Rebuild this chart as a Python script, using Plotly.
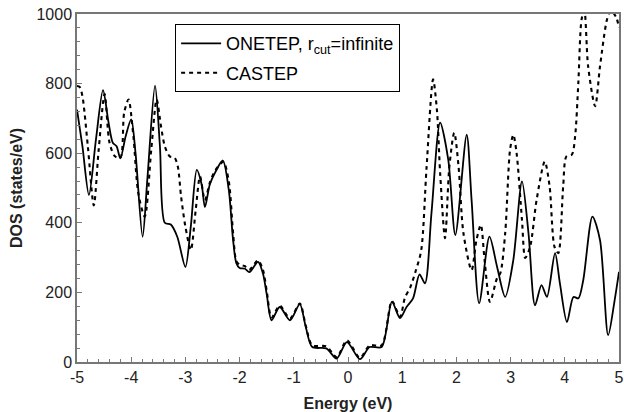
import plotly.graph_objects as go

onetep_x = [-5.00, -4.90, -4.78, -4.65, -4.52, -4.42, -4.34, -4.27, -4.20, -4.10, -4.00, -3.92, -3.79, -3.70,
            -3.56, -3.47, -3.38, -3.27, -3.15, -3.00, -2.90, -2.79, -2.70, -2.64, -2.55, -2.45, -2.31, -2.20,
            -2.12, -2.06, -2.00, -1.90, -1.82, -1.66, -1.57, -1.50, -1.41, -1.26, -1.07, -0.89, -0.78, -0.66,
            -0.40, -0.21, -0.02, 0.22, 0.40, 0.62, 0.81, 0.96, 1.08, 1.20, 1.32, 1.42, 1.54, 1.70, 1.85, 1.98,
            2.19, 2.28, 2.42, 2.61, 2.75, 2.90, 3.05, 3.21, 3.33, 3.45, 3.57, 3.67, 3.82, 3.91, 4.04, 4.16,
            4.25, 4.34, 4.51, 4.65, 4.80, 4.92, 5.00]
onetep_y = [725, 620, 480, 640, 781, 690, 630, 620, 585, 650, 697, 600, 360, 530,
            794, 620, 400, 395, 360, 273, 390, 552, 510, 445, 510, 545, 579, 495,
            350, 284, 270, 268, 258, 288, 255, 195, 120, 158, 120, 166, 101, 43,
            39, 10, 57, 8, 43, 43, 173, 126, 158, 183, 252, 226, 428, 688, 581, 365,
            653, 466, 169, 360, 274, 187, 293, 519, 370, 163, 221, 187, 313, 226, 115, 187,
            183, 235, 418, 350, 77, 178, 259]

castep_x = [-5.00, -4.95, -4.90, -4.80, -4.69, -4.60, -4.49, -4.40, -4.30, -4.20, -4.13, -4.05, -3.96, -3.87,
            -3.75, -3.63, -3.53, -3.45, -3.38, -3.29, -3.20, -3.14, -3.08, -3.00, -2.90, -2.81, -2.73, -2.64,
            -2.55, -2.45, -2.30, -2.20, -2.12, -2.06, -2.00, -1.90, -1.82, -1.66, -1.57, -1.50, -1.41, -1.26,
            -1.07, -0.89, -0.78, -0.66, -0.40, -0.21, -0.02, 0.22, 0.40, 0.62, 0.81, 0.96, 1.05, 1.15, 1.25,
            1.35, 1.45, 1.57, 1.64, 1.70, 1.79, 1.87, 1.96, 2.04, 2.13, 2.28, 2.37, 2.45, 2.52, 2.62, 2.75,
            2.81, 2.90, 2.99, 3.05, 3.11, 3.21, 3.27, 3.36, 3.48, 3.63, 3.72, 3.81, 3.88, 3.97, 4.03, 4.13,
            4.19, 4.25, 4.31, 4.36, 4.43, 4.56, 4.65, 4.78, 4.85, 4.95, 5.00]
castep_y = [793, 790, 764, 620, 450, 610, 770, 630, 591, 587, 716, 754, 649, 486,
            418, 610, 754, 677, 620, 591, 587, 562, 476, 389, 322, 437, 533, 465,
            515, 550, 575, 520, 370, 290, 280, 275, 265, 292, 265, 205, 128, 162,
            125, 168, 105, 48, 45, 14, 62, 12, 48, 48, 175, 130, 185, 215, 262,
            320, 560, 812, 725, 543, 356, 561, 659, 561, 370, 264, 350, 394, 293, 173, 241,
            255, 370, 610, 653, 601, 408, 299, 331, 466, 576, 504, 331, 313, 504, 591, 596,
            648, 803, 985, 1010, 850, 735, 850, 985, 1010, 990, 960]

x_ticks = [-5, -4, -3, -2, -1, 0, 1, 2, 3, 4, 5]
y_ticks = [0, 200, 400, 600, 800, 1000]

FONT = "Liberation Sans, Arial, sans-serif"

fig = go.Figure()
fig.add_trace(go.Scatter(x=onetep_x, y=onetep_y, mode="lines", name="ONETEP, r<sub>cut</sub>=infinite",
                         legendgroup="a",
                         line=dict(color="black", width=1.8, shape="spline", smoothing=0.8)))
fig.add_trace(go.Scatter(x=castep_x, y=castep_y, mode="lines", name="CASTEP",
                         legendgroup="b",
                         line=dict(color="black", width=2.1, dash="4px,4px", shape="spline", smoothing=0.8)))

fig.update_layout(
    width=624, height=412,
    margin=dict(l=77, r=5, t=14, b=50),
    paper_bgcolor="white", plot_bgcolor="white",
    font=dict(family=FONT, size=15, color="#222"),
    showlegend=True,
    legend=dict(x=0.181, y=0.971, xanchor="left", yanchor="top",
                bordercolor="black", borderwidth=1, bgcolor="white",
                font=dict(family=FONT, size=18, color="black"),
                tracegroupgap=3, itemwidth=40),
    xaxis=dict(range=[-5, 5], tickvals=x_ticks, ticktext=[str(v) for v in x_ticks],
               automargin=False,
               showgrid=False, zeroline=False, showline=True, linecolor="#777", linewidth=1.5, mirror=True,
               ticks="inside", ticklen=5, tickcolor="#777",
               minor=dict(dtick=0.2, ticks="inside", ticklen=3, tickcolor="#777"),
               tickfont=dict(family=FONT, size=16, color="#222"),
               title=dict(text="<b>Energy (eV)</b>", standoff=14,
                          font=dict(family=FONT, size=16, color="#222"))),
    yaxis=dict(range=[0, 1000], tickvals=y_ticks, ticktext=[str(v) for v in y_ticks],
               automargin=False,
               showgrid=False, zeroline=False, showline=True, linecolor="#777", linewidth=1.5, mirror=True,
               ticks="inside", ticklen=5, tickcolor="#777",
               minor=dict(dtick=40, ticks="inside", ticklen=3, tickcolor="#777"),
               tickfont=dict(family=FONT, size=16, color="#222"),
               title=dict(text="<b>DOS (states/eV)</b>", standoff=10,
                          font=dict(family=FONT, size=16, color="#222"))),
)

fig.write_html("out.html", config={"displayModeBar": False},
               post_script="document.body.style.margin='0';")
